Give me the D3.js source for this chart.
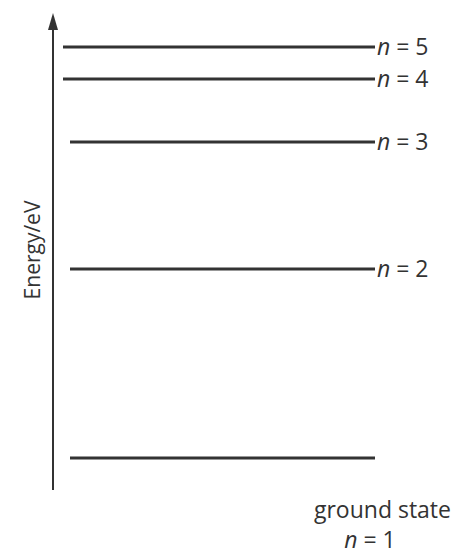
<!DOCTYPE html>
<html>
<head>
<meta charset="utf-8">
<script src="https://cdn.jsdelivr.net/npm/d3@7"></script>
<style>
  body { margin: 0; background: #fff; }
  text { font-family: "Open Sans", sans-serif; font-weight: 400; fill: #333; }
</style>
</head>
<body>
<svg id="chart"></svg>
<script>
// energy levels, drawn height in arbitrary units (schematic)
const levels = ['n = 1', 'n = 2', 'n = 3', 'n = 4', 'n = 5'];
const heights = [0, 46, 76.9, 92.2, 100];
const lineStarts = [70, 70, 70, 63, 63];

const w = 469, h = 553;
const svg = d3.select('#chart').attr('width', w).attr('height', h);

const yScale = d3.scaleLinear().domain([0, 100]).range([458, 47]);
const axisX = 53;

// arrow axis
svg.append('line')
  .attr('x1', axisX).attr('x2', axisX)
  .attr('y1', 490).attr('y2', 26)
  .attr('stroke', '#333').attr('stroke-width', 2);
svg.append('path')
  .attr('d', `M${axisX},13 L${axisX - 5},30 L${axisX + 5},30 Z`)
  .attr('fill', '#333');

svg.append('text')
  .attr('transform', `translate(40,250) rotate(-90)`)
  .attr('text-anchor', 'middle')
  .style('font-size', '21px')
  .text('Energy/eV');

const data = levels.map((l, i) => ({ label: l, h: heights[i], x0: lineStarts[i] }));

svg.selectAll('line.level')
  .data(data)
  .enter()
  .append('line')
  .attr('class', 'level')
  .attr('x1', d => d.x0)
  .attr('x2', 375)
  .attr('y1', d => yScale(d.h))
  .attr('y2', d => yScale(d.h))
  .attr('stroke', '#333')
  .attr('stroke-width', 3);

// labels for upper levels
const lab = svg.selectAll('text.lab')
  .data(data.slice(1))
  .enter()
  .append('text')
  .attr('class', 'lab')
  .attr('x', 377)
  .attr('y', d => yScale(d.h) + 8)
  .style('font-size', '23px');
lab.append('tspan').style('font-style', 'italic').text('n');
lab.append('tspan').text(d => ' = ' + d.label.split(' = ')[1]);

svg.append('text')
  .attr('x', 451).attr('y', 518)
  .attr('text-anchor', 'end')
  .style('font-size', '23px')
  .text('ground state');
const g1 = svg.append('text')
  .attr('x', 370).attr('y', 548)
  .attr('text-anchor', 'middle')
  .style('font-size', '23px');
g1.append('tspan').style('font-style', 'italic').text('n');
g1.append('tspan').text(' = 1');
</script>
</body>
</html>
